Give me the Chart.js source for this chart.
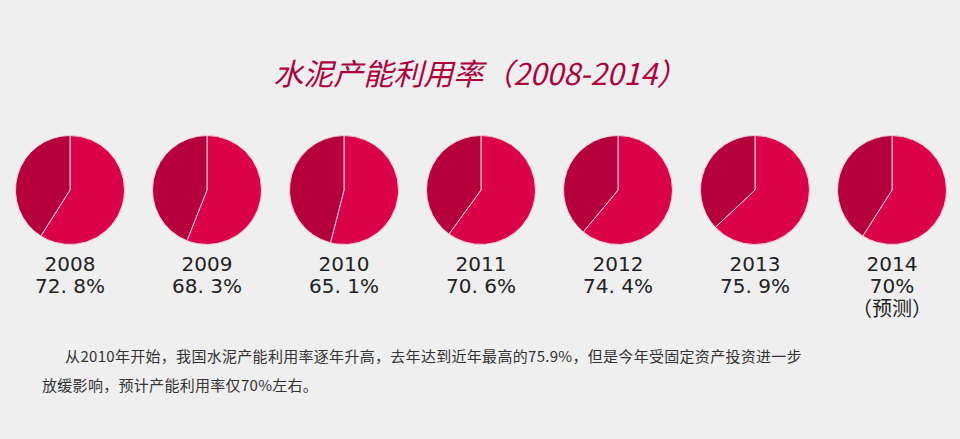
<!DOCTYPE html><html><head><meta charset="utf-8">
<script src="https://cdn.jsdelivr.net/npm/chart.js@4"></script>
<style>
body{margin:0;width:960px;height:439px;background:#efefef;position:relative;overflow:hidden;font-family:"Noto Sans CJK SC",sans-serif;}
#title{position:absolute;top:50px;left:0;width:960px;text-align:center;font-size:30px;font-style:italic;color:#b0003a;}
.pie{position:absolute;top:135px;width:110px;height:110px;}
.lab{position:absolute;top:253px;width:140px;text-align:center;font-family:"DejaVu Sans",sans-serif;font-size:20px;line-height:22px;color:#222;}
#txt{position:absolute;top:341px;left:42px;width:900px;font-size:15px;line-height:29px;color:#333;letter-spacing:0.3px;}
</style></head><body>
<div id="title">水泥产能利用率（2008-2014）</div>
<div id="txt">&emsp;&ensp;从2010年开始，我国水泥产能利用率逐年升高，去年达到近年最高的75.9%，但是今年受固定资产投资进一步<br>放缓影响，预计产能利用率仅70%左右。</div>
<script>
const years=["2008","2009","2010","2011","2012","2013","2014"];
const labels=["72.8%","68.3%","65.1%","70.6%","74.4%","75.9%","70%"];
const notes=["","","","","","","（预测）"];
const drawnShare=[59,56,54,60,61,63,59];
years.forEach((y,i)=>{
  const cx=70+137*i;
  const d=document.createElement('div');d.className='pie';d.style.left=(cx-55)+'px';
  const c=document.createElement('canvas');d.appendChild(c);document.body.appendChild(d);
  new Chart(c,{type:'pie',data:{labels:['used','idle'],datasets:[{data:[drawnShare[i],100-drawnShare[i]],backgroundColor:['#dc024a','#b5003d'],borderColor:'#f0d0da',borderWidth:1}]},
    options:{responsive:true,maintainAspectRatio:false,animation:false,plugins:{legend:{display:false},tooltip:{enabled:false}}}});
  const l=document.createElement('div');l.className='lab';l.style.left=(cx-70)+'px';
  l.innerHTML=y+'<br>'+labels[i].replace('.', '. ')+(notes[i]?'<br><span style="font-family:Noto Sans CJK SC">'+notes[i]+'</span>':'');
  document.body.appendChild(l);
});
</script></body></html>
